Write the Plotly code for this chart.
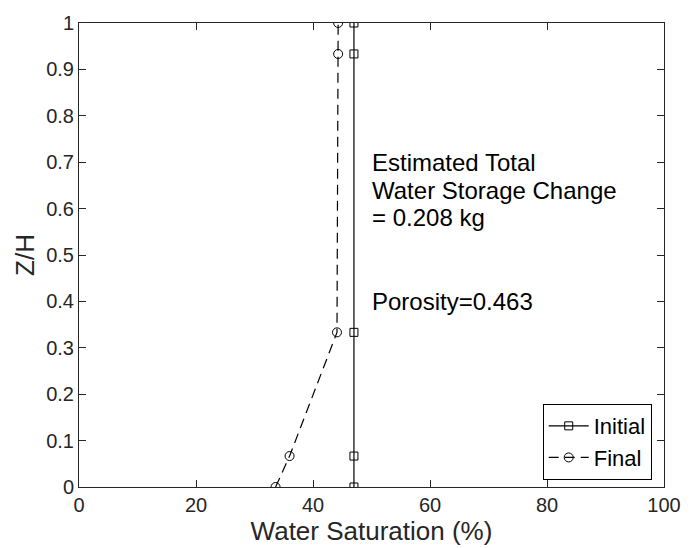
import plotly.graph_objects as go

z_levels = [0, 0.0667, 0.3333, 0.9333, 1.0]
initial_sat = [47.0, 47.0, 47.0, 47.0, 47.0]
final_sat = [33.6, 36.0, 44.1, 44.3, 44.3]

x_ticks = [0, 20, 40, 60, 80, 100]
y_ticks = [0, 0.1, 0.2, 0.3, 0.4, 0.5, 0.6, 0.7, 0.8, 0.9, 1]
y_ticktext = ["0", "0.1", "0.2", "0.3", "0.4", "0.5", "0.6", "0.7", "0.8", "0.9", "1"]

note_lines = ["Estimated Total", "Water Storage Change", "= 0.208 kg"]
porosity_text = "Porosity=0.463"

FONT = "Liberation Sans, Arial, Helvetica, sans-serif"
AX = "#262626"

fig = go.Figure()
fig.add_trace(go.Scatter(
    x=initial_sat, y=z_levels, name="Initial", mode="lines+markers",
    line=dict(color="black", width=1.2),
    marker=dict(symbol="square-open", size=8, color="black", line=dict(width=1)),
))
fig.add_trace(go.Scatter(
    x=final_sat, y=z_levels, name="Final", mode="lines+markers",
    line=dict(color="black", width=1.2, dash="10px,6px"),
    marker=dict(symbol="circle-open", size=9, color="black", line=dict(width=1)),
))

note_y = [0.699, 0.640, 0.580]
for txt, yy in zip(note_lines, note_y):
    fig.add_annotation(x=49.8, y=yy, xref="x", yref="y", xanchor="left", yanchor="middle",
                       text=txt, showarrow=False, align="left",
                       font=dict(family=FONT, size=24, color="black"))
fig.add_annotation(x=49.8, y=0.399, xref="x", yref="y", xanchor="left", yanchor="middle",
                   text=porosity_text, showarrow=False, align="left",
                   font=dict(family=FONT, size=24, color="black"))

axis_common = dict(
    showgrid=False, zeroline=False, showline=True, linecolor=AX, linewidth=1,
    mirror="ticks", ticks="inside", ticklen=7, tickcolor=AX, tickwidth=1,
    tickfont=dict(family=FONT, size=20, color=AX),
)

fig.update_xaxes(range=[0, 100], tickvals=x_ticks, ticktext=[str(v) for v in x_ticks],
                 title=dict(text="Water Saturation (%)", font=dict(family=FONT, size=26, color=AX), standoff=2),
                 **axis_common)
fig.update_yaxes(range=[0, 1], tickvals=y_ticks, ticktext=y_ticktext,
                 title=dict(text="Z/H", font=dict(family=FONT, size=26, color=AX), standoff=4),
                 **axis_common)

fig.update_layout(
    width=693, height=548,
    margin=dict(l=79, r=20, t=23, b=56),
    plot_bgcolor="white", paper_bgcolor="white",
    showlegend=True,
    legend=dict(x=0.979, y=0.015, xanchor="right", yanchor="bottom",
                bgcolor="white", bordercolor="black", borderwidth=1,
                font=dict(family=FONT, size=22, color="black"),
                tracegroupgap=0, itemwidth=40),
)

fig.write_html("out.html")
